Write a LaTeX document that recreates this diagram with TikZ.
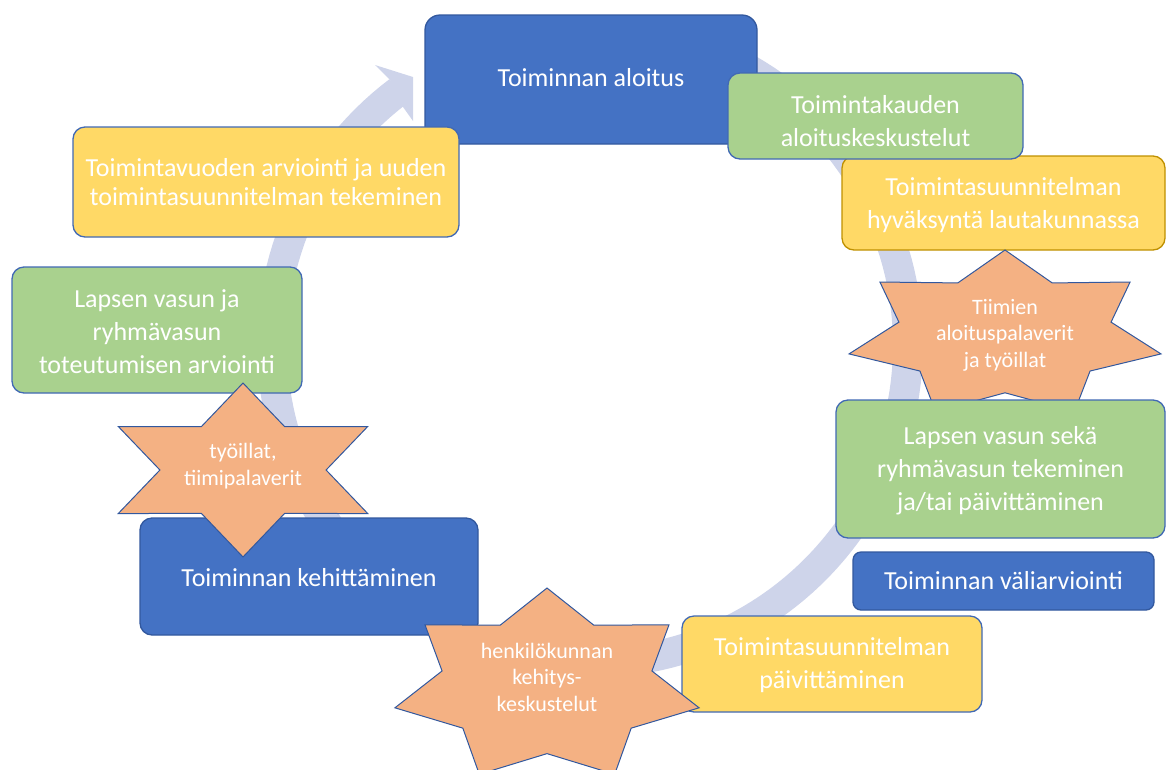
\documentclass[tikz,border=0pt]{standalone}
\usepackage{fontspec}
\setmainfont{Carlito}
\usetikzlibrary{fit}
\definecolor{cblue}{RGB}{68,114,196}
\definecolor{cblueb}{RGB}{50,88,158}
\definecolor{cgreen}{RGB}{169,209,142}
\definecolor{cyellow}{RGB}{255,217,102}
\definecolor{cgold}{RGB}{191,144,0}
\definecolor{corange}{RGB}{244,177,131}
\definecolor{cring}{RGB}{206,212,234}
\definecolor{cedge}{RGB}{65,105,180}
\tikzset{
  box/.style={rounded corners=12pt, draw=cedge, line width=1.3pt, inner sep=0pt},
  bluebox/.style={box, fill=cblue, draw=cblueb},
  greenbox/.style={box, fill=cgreen},
  yellowbox/.style={box, fill=cyellow},
  boxtext/.style={text=white, align=center, inner sep=0pt,
    font=\fontsize{26}{33}\selectfont},
  starshape/.style={fill=corange, draw=cblueb, line width=1pt, line join=miter},
  startext/.style={text=white, align=center, inner sep=0pt,
    font=\fontsize{22}{26.5}\selectfont},
  ringline/.style={draw=cring, line width=30pt},
}
\newcommand{\mkstar}[7]{%
  \filldraw[starshape] ({#1},{#2-#4})
    \foreach \i in {1,...,#7} {
      -- ({#1+ifthenelse(isodd(\i),#6,1)*#3*cos(-90+\i*180/#5)},
          {#2+ifthenelse(isodd(\i),#6,1)*#4*sin(-90+\i*180/#5)}) } -- cycle;}
\begin{document}
\begin{tikzpicture}[x=1pt,y=-1pt]
\useasboundingbox (0,0) rectangle (1167,769);
% background cycle arrow
\draw[ringline] plot[domain=-80:233, samples=160] ({590+318*cos(\x)},{345+318*sin(\x)});
\fill[cring] (375,65) -- (413,77) -- (413,121) -- (403,107) -- (390,80) -- cycle;
% left half
\node[bluebox, rounded corners=15pt, fit={(425,15) (757,144)}] (n1) {};
\node[boxtext] (t1) at ([yshift=2pt]n1.center) {Toiminnan aloitus};
\node[yellowbox, fit={(73,127) (459,237)}] (n12) {};
\node[boxtext, font=\fontsize{26}{29}\selectfont] (t12) at (n12.center)
  {Toimintavuoden arviointi ja uuden\\toimintasuunnitelman tekeminen};
\node[greenbox, fit={(12,267) (302,393)}] (n11) {};
\node[boxtext] (t11) at ([yshift=-2pt]n11.center)
  {Lapsen vasun ja\\ryhmävasun\\toteutumisen arviointi};
\node[bluebox, fit={(140,518) (478,635)}] (n9) {};
\node[boxtext] (t9) at ([yshift=-1pt]n9.center) {Toiminnan kehittäminen};
\mkstar{243}{470}{144}{87}{6}{0.577}{11}
\node[startext] (s10) at (243,466) {työillat,\\tiimipalaverit};
% right half
\node[yellowbox, draw=cgold, fit={(842,156) (1165,250)}] (n3) {};
\node[boxtext] (t3) at ([yshift=-2pt]n3.center)
  {Toimintasuunnitelman\\hyväksyntä lautakunnassa};
\node[greenbox, fit={(728,73) (1023,159)}] (n2) {};
\node[boxtext] (t2) at ([yshift=-5pt]n2.center)
  {Toimintakauden\\aloituskeskustelut};
\mkstar{1005}{335}{160}{85}{7}{0.68}{13}
\node[startext] (s4) at (1005,335) {Tiimien\\aloituspalaverit\\ja työillat};
\node[greenbox, fit={(836,400) (1165,538)}] (n5) {};
\node[boxtext] (t5) at ([yshift=-2pt]n5.center)
  {Lapsen vasun sekä\\ryhmävasun tekeminen\\ja/tai päivittäminen};
\node[bluebox, rounded corners=8pt, fit={(853,552) (1154,610)}] (n6) {};
\node[boxtext] (t6) at (n6.center) {Toiminnan väliarviointi};
\node[yellowbox, fit={(682,616) (982,712)}] (n7) {};
\node[boxtext] (t7) at ([yshift=-1.5pt]n7.center)
  {Toimintasuunnitelman\\päivittäminen};
\mkstar{547}{686}{156}{98}{7}{0.69}{13}
\node[startext] (s8) at (547,677) {henkilökunnan\\kehitys-\\keskustelut};
\end{tikzpicture}
\end{document}
